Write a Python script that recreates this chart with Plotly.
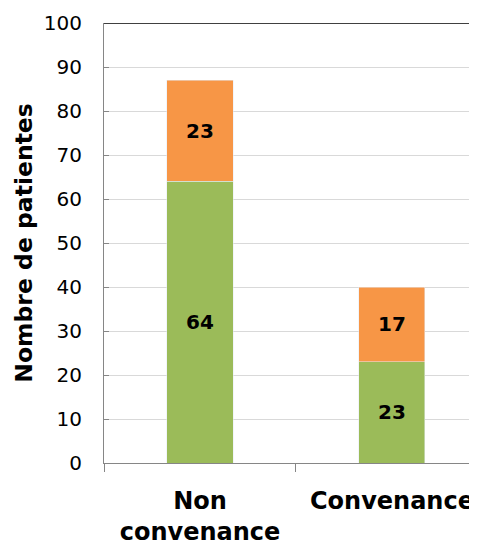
import plotly.graph_objects as go

categories = ["Non<br>convenance", "Convenance"]
bottom_vals = [64, 23]
top_vals = [23, 17]
y_ticks = [0, 10, 20, 30, 40, 50, 60, 70, 80, 90, 100]

font_fam = "Tahoma, DejaVu Sans, sans-serif"

fig = go.Figure()
fig.add_trace(go.Bar(x=categories, y=bottom_vals, marker_color="#9BBB59",
                     text=bottom_vals, textposition="inside", insidetextanchor="middle",
                     textfont=dict(family=font_fam, size=20, color="black", weight="bold"),
                     showlegend=False))
fig.add_trace(go.Bar(x=categories, y=top_vals, marker_color="#F79646",
                     text=top_vals, textposition="inside", insidetextanchor="middle",
                     textfont=dict(family=font_fam, size=20, color="black", weight="bold"),
                     showlegend=False))

# page body has an 8px margin, so the figure is a bit smaller than the window
fig.update_layout(
    barmode="stack", bargap=0.656,
    width=469, height=539,
    margin=dict(l=96, r=0, t=15, b=84),
    plot_bgcolor="white", paper_bgcolor="white",
    font=dict(family=font_fam, color="black"),
    uniformtext=dict(mode="show", minsize=10),
)
fig.update_xaxes(range=[-0.5, 1.443], showline=True, linecolor="#868686", linewidth=1,
                 ticks="outside", tickson="boundaries", ticklen=8, tickcolor="#868686",
                 tickfont=dict(size=24, weight="bold", family=font_fam),
                 ticklabelstandoff=16, showgrid=False, automargin=False)
fig.update_yaxes(range=[0, 100], tickvals=y_ticks, showline=True, linecolor="#868686",
                 linewidth=1, ticks="inside", ticklen=5, tickcolor="#868686",
                 showgrid=True, gridcolor="#D9D9D9", gridwidth=1,
                 tickfont=dict(size=20, family=font_fam), ticklabelstandoff=17,
                 automargin=False,
                 title=dict(text="Nombre de patientes", standoff=4,
                            font=dict(size=23.5, weight="bold", family=font_fam)))
fig.add_shape(type="line", xref="paper", yref="y", x0=0, x1=1, y0=100, y1=100,
              line=dict(color="black", width=1.5))

fig.write_html("out.html")
